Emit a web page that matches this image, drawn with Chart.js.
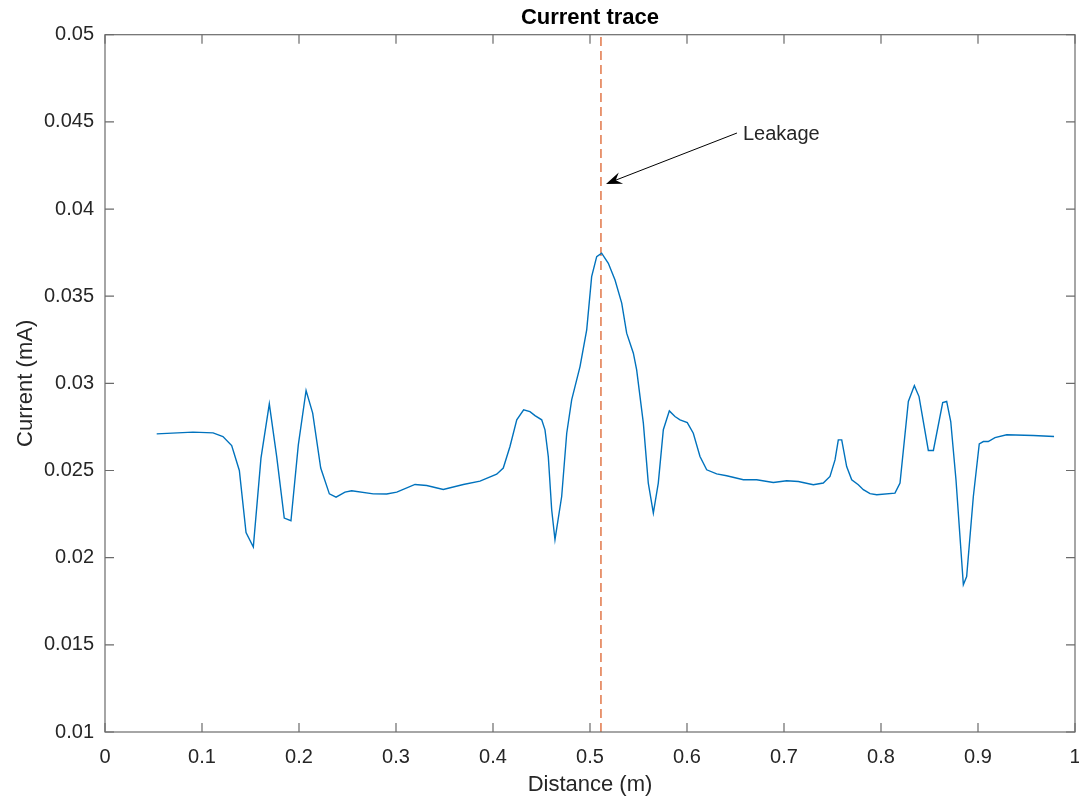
<!DOCTYPE html>
<html>
<head>
<meta charset="utf-8">
<script src="https://cdn.jsdelivr.net/npm/chart.js@4.4.1/dist/chart.umd.min.js"></script>
<style>
  html, body { margin: 0; padding: 0; background: #ffffff; }
  #wrap { width: 1079px; height: 798px; }
</style>
</head>
<body>
<div id="wrap"><canvas id="c" width="1079" height="798"></canvas></div>
<script>
// ---- data ----
const distance = [
  0.0533, 0.0907, 0.1114, 0.1216, 0.1306, 0.1385, 0.1454, 0.1529, 0.1608, 0.1694,
  0.1770, 0.1848, 0.1917, 0.1993, 0.2073, 0.2141, 0.2224, 0.2313, 0.2382, 0.2474,
  0.2543, 0.2766, 0.2904, 0.3008, 0.3196, 0.3317, 0.3487, 0.3694, 0.3866, 0.4038,
  0.4106, 0.4175, 0.4245, 0.4316, 0.4381, 0.4433, 0.4502, 0.4536, 0.4570, 0.4605,
  0.4639, 0.4708, 0.4760, 0.4811, 0.4897, 0.4966, 0.5017, 0.5069, 0.5120, 0.5189,
  0.5258, 0.5327, 0.5378, 0.5447, 0.5481, 0.5550, 0.5601, 0.5653, 0.5704, 0.5756,
  0.5818, 0.5876, 0.5928, 0.6003, 0.6065, 0.6134, 0.6203, 0.6306, 0.6409, 0.6581,
  0.6718, 0.6890, 0.7028, 0.7148, 0.7302, 0.7405, 0.7474, 0.7526, 0.7560, 0.7595,
  0.7646, 0.7698, 0.7766, 0.7818, 0.7887, 0.7956, 0.8144, 0.8196, 0.8282, 0.8344,
  0.8392, 0.8488, 0.8540, 0.8636, 0.8677, 0.8719, 0.8773, 0.8849, 0.8883, 0.8952,
  0.9013, 0.9055, 0.9106, 0.9175, 0.9296, 0.9570, 0.9784
];
const current = [
  0.02710, 0.02720, 0.02716, 0.02695, 0.02643, 0.02500, 0.02144, 0.02061, 0.02571, 0.02882,
  0.02580, 0.02227, 0.02212, 0.02647, 0.02959, 0.02829, 0.02514, 0.02366, 0.02347, 0.02376,
  0.02384, 0.02366, 0.02365, 0.02376, 0.02420, 0.02414, 0.02391, 0.02420, 0.02439, 0.02479,
  0.02514, 0.02638, 0.02791, 0.02848, 0.02838, 0.02815, 0.02791, 0.02733, 0.02580, 0.02275,
  0.02103, 0.02351, 0.02714, 0.02905, 0.03096, 0.03307, 0.03612, 0.03727, 0.03747, 0.03689,
  0.03593, 0.03460, 0.03288, 0.03173, 0.03077, 0.02772, 0.02428, 0.02256, 0.02428, 0.02734,
  0.02842, 0.02810, 0.02791, 0.02775, 0.02714, 0.02580, 0.02504, 0.02481, 0.02470, 0.02447,
  0.02447, 0.02431, 0.02441, 0.02437, 0.02418, 0.02428, 0.02466, 0.02561, 0.02676, 0.02676,
  0.02523, 0.02447, 0.02418, 0.02390, 0.02367, 0.02361, 0.02370, 0.02428, 0.02896, 0.02987,
  0.02924, 0.02615, 0.02615, 0.02890, 0.02896, 0.02781, 0.02447, 0.01845, 0.01892, 0.02351,
  0.02653, 0.02666, 0.02666, 0.02689, 0.02705, 0.02701, 0.02695
];
const xTicks = [0, 0.1, 0.2, 0.3, 0.4, 0.5, 0.6, 0.7, 0.8, 0.9, 1];
const xTickLabels = ['0', '0.1', '0.2', '0.3', '0.4', '0.5', '0.6', '0.7', '0.8', '0.9', '1'];
const yTicks = [0.01, 0.015, 0.02, 0.025, 0.03, 0.035, 0.04, 0.045, 0.05];
const yTickLabels = ['0.01', '0.015', '0.02', '0.025', '0.03', '0.035', '0.04', '0.045', '0.05'];
const leakageX = 0.5113;
const arrowTail = [0.6515, 0.04436];
const arrowHead = [0.5165, 0.04144];
const annotationText = 'Leakage';
const annotationPos = [0.6577, 0.04430];

const FONT = "'Liberation Sans', Arial, Helvetica, sans-serif";
const AX_COLOR = '#6b6b6b';
const TXT_COLOR = '#262626';

const traceData = distance.map((d, i) => ({ x: d, y: current[i] }));
const leakData = [{ x: leakageX, y: yTicks[0] }, { x: leakageX, y: yTicks[yTicks.length - 1] }];

const boxPlugin = {
  id: 'matlabBox',
  afterDraw(chart) {
    const { ctx, chartArea: a, scales } = chart;
    ctx.save();
    ctx.strokeStyle = AX_COLOR;
    ctx.lineWidth = 1.2;
    ctx.strokeRect(a.left, a.top, a.right - a.left, a.bottom - a.top);
    const tl = 9;
    ctx.beginPath();
    xTicks.forEach(v => {
      const px = scales.x.getPixelForValue(v);
      ctx.moveTo(px, a.bottom); ctx.lineTo(px, a.bottom - tl);
      ctx.moveTo(px, a.top); ctx.lineTo(px, a.top + tl);
    });
    yTicks.forEach(v => {
      const py = scales.y.getPixelForValue(v);
      ctx.moveTo(a.left, py); ctx.lineTo(a.left + tl, py);
      ctx.moveTo(a.right, py); ctx.lineTo(a.right - tl, py);
    });
    ctx.stroke();

    // annotation arrow
    const x0 = scales.x.getPixelForValue(arrowTail[0]);
    const y0 = scales.y.getPixelForValue(arrowTail[1]);
    const x1 = scales.x.getPixelForValue(arrowHead[0]);
    const y1 = scales.y.getPixelForValue(arrowHead[1]);
    const dx = x1 - x0, dy = y1 - y0;
    const len = Math.hypot(dx, dy);
    const ux = dx / len, uy = dy / len;
    const nx = -uy, ny = ux;
    const L = 16, W = 6;
    ctx.strokeStyle = '#000';
    ctx.lineWidth = 1;
    ctx.beginPath();
    ctx.moveTo(x0, y0);
    ctx.lineTo(x1 - ux * L * 0.6, y1 - uy * L * 0.6);
    ctx.stroke();
    ctx.fillStyle = '#000';
    ctx.beginPath();
    ctx.moveTo(x1, y1);
    ctx.lineTo(x1 - ux * L + nx * W, y1 - uy * L + ny * W);
    ctx.lineTo(x1 - ux * L * 0.65, y1 - uy * L * 0.65);
    ctx.lineTo(x1 - ux * L - nx * W, y1 - uy * L - ny * W);
    ctx.closePath();
    ctx.fill();

    ctx.fillStyle = TXT_COLOR;
    ctx.font = '20px ' + FONT;
    ctx.textAlign = 'left';
    ctx.textBaseline = 'middle';
    ctx.fillText(annotationText,
      scales.x.getPixelForValue(annotationPos[0]),
      scales.y.getPixelForValue(annotationPos[1]));
    ctx.restore();
  }
};

new Chart(document.getElementById('c'), {
  type: 'scatter',
  data: {
    datasets: [
      {
        label: 'Current',
        data: traceData,
        showLine: true,
        borderColor: '#0072BD',
        borderWidth: 1.4,
        pointRadius: 0,
        tension: 0,
        fill: false
      },
      {
        label: 'Leakage',
        data: leakData,
        showLine: true,
        borderColor: '#D95319',
        borderWidth: 1.2,
        borderDash: [9, 5],
        pointRadius: 0,
        fill: false
      }
    ]
  },
  options: {
    responsive: false,
    animation: false,
    devicePixelRatio: 1,
    layout: { padding: { left: 0, right: 4, top: 0, bottom: 0 } },
    plugins: {
      legend: { display: false },
      tooltip: { enabled: false },
      title: {
        display: true,
        fullSize: false,
        text: 'Current trace',
        color: '#000',
        font: { family: FONT, size: 22, weight: 'bold' },
        padding: { top: 5, bottom: 3.3 }
      }
    },
    scales: {
      x: {
        type: 'linear',
        min: 0, max: 1,
        afterBuildTicks: s => { s.ticks = xTicks.map(v => ({ value: v })); },
        afterFit: s => { s.height = 66; s.paddingRight = 0; s.paddingLeft = 0; },
        grid: { display: false, drawTicks: false },
        border: { display: false },
        ticks: {
          autoSkip: false, maxRotation: 0, padding: 13,
          color: TXT_COLOR, font: { family: FONT, size: 20 },
          callback: (v, i) => xTickLabels[i]
        },
        title: {
          display: true, text: 'Distance (m)', color: TXT_COLOR,
          font: { family: FONT, size: 22 }, padding: { top: 0, bottom: 0 }
        }
      },
      y: {
        type: 'linear',
        min: 0.01, max: 0.05,
        afterBuildTicks: s => { s.ticks = yTicks.map(v => ({ value: v })); },
        afterFit: s => { s.width = 105; },
        grid: { display: false, drawTicks: false },
        border: { display: false },
        ticks: {
          autoSkip: false, padding: 11,
          color: TXT_COLOR, font: { family: FONT, size: 20 },
          callback: (v, i) => yTickLabels[i]
        },
        title: {
          display: true, text: 'Current (mA)', color: TXT_COLOR,
          font: { family: FONT, size: 22 }, padding: { top: 13, bottom: 0 }
        }
      }
    }
  },
  plugins: [boxPlugin]
});
</script>
</body>
</html>
